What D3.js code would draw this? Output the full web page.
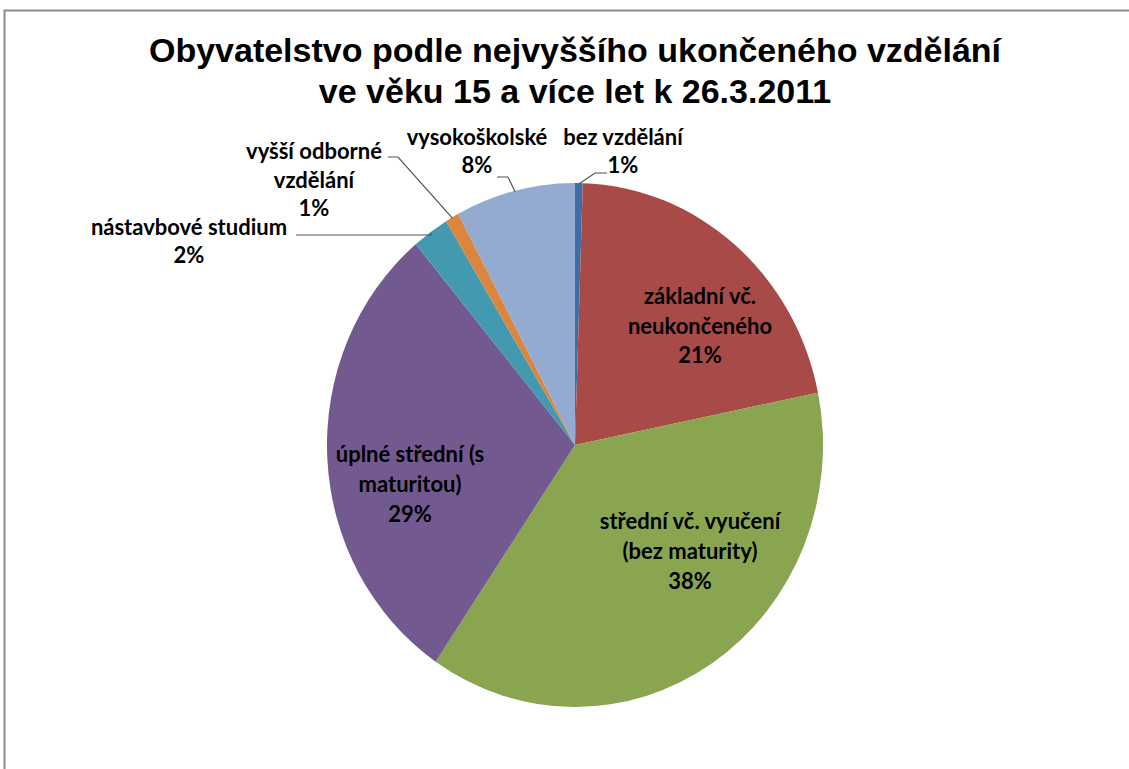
<!DOCTYPE html>
<html>
<head>
<meta charset="utf-8">
<script src="https://cdn.jsdelivr.net/npm/d3@7"></script>
<style>
  body { margin: 0; background: #fff; }
  svg { display: block; }
</style>
</head>
<body>
<div id="chart"></div>
<script>
// data (percent)
var categories = ['bez vzdělání', 'základní vč. neukončeného', 'střední vč. vyučení (bez maturity)',
  'úplné střední (s maturitou)', 'nástavbové studium', 'vyšší odborné vzdělání', 'vysokoškolské'];
var values = [0.5, 21.3, 37.7, 29.4, 2.4, 0.9, 7.8];
var percentLabels = ['1%', '21%', '38%', '29%', '2%', '1%', '8%'];
// label lines as they are wrapped in the chart
var labelLines = [
  ['bez vzdělání', '1%'],
  ['základní vč.', 'neukončeného', '21%'],
  ['střední vč. vyučení', '(bez maturity)', '38%'],
  ['úplné střední (s', 'maturitou)', '29%'],
  ['nástavbové studium', '2%'],
  ['vyšší odborné', 'vzdělání', '1%'],
  ['vysokoškolské', '8%']
];
var colors = ['#3f6ea7', '#a84a47', '#8aa550', '#72598f', '#4299b0', '#dc853e', '#94aad1'];
var titleLines = ['Obyvatelstvo podle nejvyššího ukončeného vzdělání', 've věku 15 a více let k 26.3.2011'];

var width = 1129, height = 769;
var cx = 575, cy = 445, r = 248, stretchY = 262 / 248;

var svg = d3.select('#chart').append('svg')
  .attr('width', width)
  .attr('height', height);

//chart frame
svg.append('rect')
  .attr('x', 4.5).attr('y', 10.5)
  .attr('width', width + 20).attr('height', height + 20)
  .attr('fill', '#fff')
  .attr('stroke', '#8c8c8c')
  .attr('stroke-width', 2);

//title
svg.append('g').selectAll('text')
  .data(titleLines)
  .enter().append('text')
  .attr('x', 575)
  .attr('y', function (d, i) { return 62 + i * 41; })
  .attr('text-anchor', 'middle')
  .style('font-family', 'Liberation Sans, Arial, sans-serif')
  .style('font-weight', 'bold')
  .style('font-size', '34px')
  .attr('fill', '#000')
  .text(function (d) { return d; });

//pie
var pie = d3.pie().sort(null).value(function (d) { return d; });
var arc = d3.arc().innerRadius(0).outerRadius(r);
var arcs = pie(values);

var pieG = svg.append('g')
  .attr('transform', 'translate(' + cx + ',' + cy + ') scale(1,' + stretchY + ')');

pieG.selectAll('path')
  .data(arcs)
  .enter().append('path')
  .attr('d', arc)
  .attr('fill', function (d, i) { return colors[i]; })
  .attr('stroke', 'none');

// point on the (stretched) pie edge
function edgePoint(d, rr) {
  var a = (d.startAngle + d.endAngle) / 2;
  return [cx + Math.sin(a) * rr, cy - Math.cos(a) * rr * stretchY];
}

//label positions (centre x, first line y) and leader lines for the outside ones
var labelPos = [
  { x: 623, y: 145, lh: 28, leader: [[595, 173], [607, 173]] },
  { x: 700, y: 304, lh: 29.5 },
  { x: 690, y: 529, lh: 30 },
  { x: 410, y: 462, lh: 30 },
  { x: 189, y: 235, lh: 28, leader: [[431, 235], [296, 235]] },
  { x: 314, y: 159, lh: 28.5, leader: [[398, 157], [388, 157]] },
  { x: 477, y: 145, lh: 28, leader: [[508, 177], [497, 177]] }
];

var leaderLine = d3.line();
arcs.forEach(function (d, i) {
  var p = labelPos[i];
  if (!p.leader) return;
  var pts = [edgePoint(d, r - 1)].concat(p.leader);
  svg.append('path')
    .attr('d', leaderLine(pts))
    .attr('fill', 'none')
    .attr('stroke', '#555')
    .attr('stroke-width', 1.2);
});

var labelG = svg.append('g');
labelLines.forEach(function (lines, i) {
  var p = labelPos[i];
  var t = labelG.append('text')
    .attr('text-anchor', 'middle')
    .style('font-family', 'Lato, Carlito, sans-serif')
    .style('font-weight', 'bold')
    .style('font-size', '22px')
    .attr('fill', '#000');
  lines.forEach(function (s, j) {
    t.append('tspan')
      .attr('x', p.x)
      .attr('y', p.y + j * p.lh)
      .text(s);
  });
});
</script>
</body>
</html>
